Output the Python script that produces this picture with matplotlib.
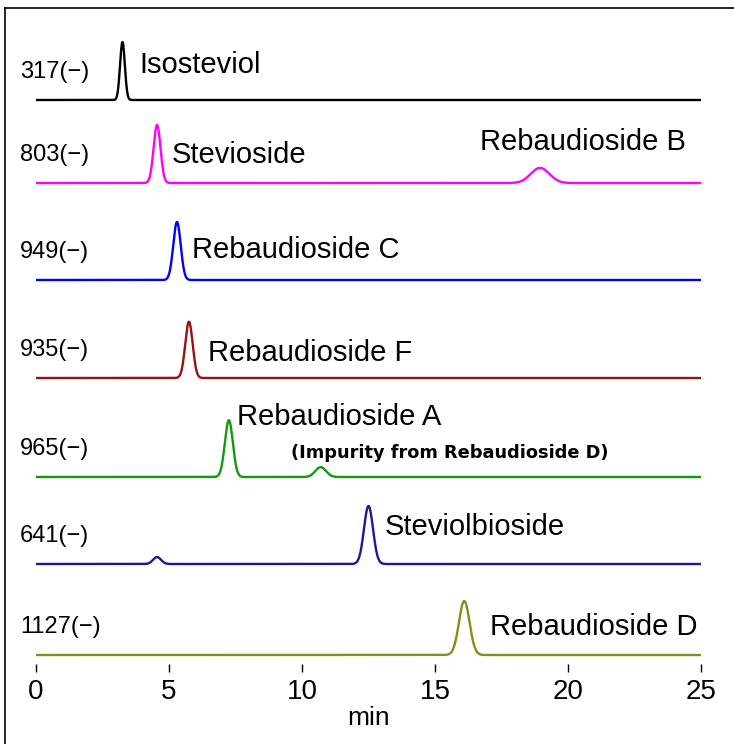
import numpy as np
import matplotlib.pyplot as plt
from matplotlib.lines import Line2D

# m/z channel of each trace (negative ion mode)
channels = ["317(\u2212)", "803(\u2212)", "949(\u2212)", "935(\u2212)", "965(\u2212)", "641(\u2212)", "1127(\u2212)"]
colors = ["#000000", "#ff00ff", "#0000ff", "#991111", "#119911", "#1a1a99", "#8c8c1a"]

# peaks: retention time (min), relative height, width (sigma, min)
peak_times = [[3.25], [4.55, 18.95], [5.3], [5.75], [7.25, 10.7], [4.55, 12.5], [16.1]]
peak_heights = [[1.0], [1.0, 0.26], [1.0], [0.97], [0.98, 0.17], [0.12, 1.0], [0.93]]
peak_widths = [[0.09], [0.13, 0.35], [0.14], [0.14], [0.15, 0.2], [0.15, 0.17], [0.2]]

peak_names = ["Isosteviol", "Stevioside", "Rebaudioside B", "Rebaudioside C", "Rebaudioside F",
              "Rebaudioside A", "(Impurity from Rebaudioside D)", "Steviolbioside", "Rebaudioside D"]

xticks = [0, 5, 10, 15, 20, 25]

plt.rcParams['font.family'] = ['Liberation Sans', 'DejaVu Sans']

fig = plt.figure(figsize=(7.34, 7.44), dpi=100)
W, H = 734.0, 744.0
ax = fig.add_axes([36 / W, (H - 672) / H, (701 - 36) / W, (672 - 20) / H])

# baselines (pixel rows in the figure) and scale of a full peak
baselines = [100, 183, 280, 378, 477, 564, 655]
scale = 58

t = np.linspace(0, 25, 2000)
for i in range(len(channels)):
    y = np.zeros_like(t)
    for rt, h, w in zip(peak_times[i], peak_heights[i], peak_widths[i]):
        y = y + h * np.exp(-0.5 * ((t - rt) / w) ** 2)
    ax.plot(t, (672 - baselines[i]) + scale * y, color=colors[i], lw=1.7)
    ax.text(-0.6, 672 - baselines[i] + 28, channels[i], fontsize=17, ha="left", va="center",
            clip_on=False)

# compound labels: (name index, x in min, y in pixel row)
label_pos = [(0, 3.9, 65), (1, 5.1, 155), (2, 16.7, 142), (3, 5.85, 250), (4, 6.45, 353),
             (5, 7.55, 417), (7, 13.1, 527), (8, 17.05, 627)]
for k, x, row in label_pos:
    ax.text(x, 672 - row, peak_names[k], fontsize=21, ha="left", va="center")
ax.text(9.6, 672 - 453, peak_names[6], fontsize=12.8, ha="left", va="center", fontweight="bold",
        family="DejaVu Sans")

ax.set_xlim(0, 25)
ax.set_ylim(0, 652)
ax.set_xticks(xticks)
ax.set_yticks([])
ax.tick_params(axis="x", direction="in", length=6, width=1, pad=5, labelsize=20)
for s in ax.spines.values():
    s.set_visible(False)
ax.set_xlabel("min", fontsize=19, labelpad=1)
ax.patch.set_alpha(0)

# outer frame
fig.add_artist(Line2D([5 / W, 1], [1 - 8 / H, 1 - 8 / H], color="black", lw=1.2))
fig.add_artist(Line2D([5 / W, 5 / W], [0, 1 - 8 / H], color="black", lw=1.2))

fig.savefig("out.png", dpi=100)
